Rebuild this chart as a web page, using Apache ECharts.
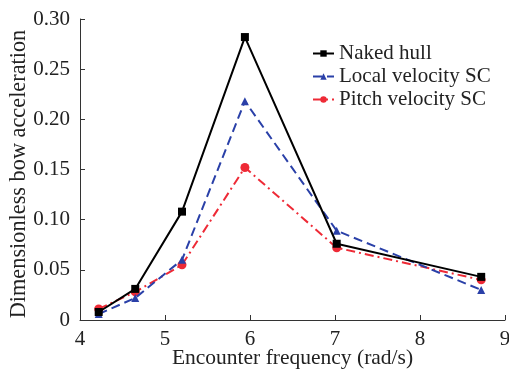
<!DOCTYPE html>
<html><head><meta charset="utf-8">
<script src="https://cdn.jsdelivr.net/npm/echarts@6/dist/echarts.min.js"></script>
<style>html,body{margin:0;padding:0;background:#fff}#c{width:509px;height:370px}</style>
</head><body><div id="c"></div>
<script>
const freq = [4.22, 4.65, 5.2, 5.94, 7.02, 8.72];
const nakedHull = [0.008, 0.031, 0.108, 0.282, 0.076, 0.043];
const localSC = [0.006, 0.022, 0.060, 0.218, 0.089, 0.030];
const pitchSC = [0.011, 0.028, 0.055, 0.152, 0.072, 0.040];
const xTicks = [4, 5, 6, 7, 8, 9];
const yTicks = ['0', '0.05', '0.10', '0.15', '0.20', '0.25', '0.30'];

const font = 'Liberation Serif';
const pair = a => freq.map((f, i) => [f, a[i]]);
const chart = echarts.init(document.getElementById('c'));
chart.setOption({
  animation: false,
  textStyle: {fontFamily: font},
  grid: {left: 80, right: 4, top: 19, bottom: 50, containLabel: false, outerBoundsMode: 'none'},
  legend: {
    orient: 'vertical', left: 307, top: 38, itemGap: 2, itemWidth: 21, itemHeight: 8,
    textStyle: {fontFamily: font, fontSize: 21, color: '#222'},
    data: ['Naked hull', 'Local velocity SC', 'Pitch velocity SC']
  },
  xAxis: {
    type: 'value', min: 4, max: 9, interval: 1,
    name: 'Encounter frequency (rad/s)', nameLocation: 'middle', nameGap: 27, nameMoveOverlap: false,
    nameTextStyle: {fontFamily: font, fontSize: 21.5, color: '#222'},
    axisLine: {lineStyle: {color: '#333', width: 1}},
    axisTick: {inside: true, length: 5, lineStyle: {color: '#333'}},
    axisLabel: {fontFamily: font, fontSize: 21, color: '#222', margin: 9,
      formatter: v => xTicks.includes(v) ? String(v) : ''},
    splitLine: {show: false}
  },
  yAxis: {
    type: 'value', min: 0, max: 0.30, interval: 0.05,
    name: 'Dimensionless bow acceleration', nameLocation: 'middle', nameGap: 50, nameMoveOverlap: false,
    nameTextStyle: {fontFamily: font, fontSize: 22.3, color: '#222', padding: [0, 9, 0, 0]},
    axisLine: {show: true, lineStyle: {color: '#333', width: 1}},
    axisTick: {show: true, inside: true, length: 5, lineStyle: {color: '#333'}},
    axisLabel: {fontFamily: font, fontSize: 21, color: '#222', margin: 10,
      formatter: v => yTicks[Math.round(v / 0.05)]},
    splitLine: {show: false}
  },
  series: [
    {name: 'Naked hull', type: 'line', data: pair(nakedHull), symbol: 'rect', symbolSize: 8,
      itemStyle: {color: '#000'}, lineStyle: {color: '#000', width: 2, type: 'solid'}, z: 3},
    {name: 'Local velocity SC', type: 'line', data: pair(localSC), symbol: 'triangle', symbolSize: 8,
      itemStyle: {color: '#2a40a8'}, lineStyle: {color: '#2a40a8', width: 2, type: [9, 5]}, z: 2},
    {name: 'Pitch velocity SC', type: 'line', data: pair(pitchSC), symbol: 'circle', symbolSize: 9,
      itemStyle: {color: '#ee2a36'}, lineStyle: {color: '#ee2a36', width: 2, type: [9, 4, 2, 4]}, z: 1}
  ]
});
</script></body></html>
